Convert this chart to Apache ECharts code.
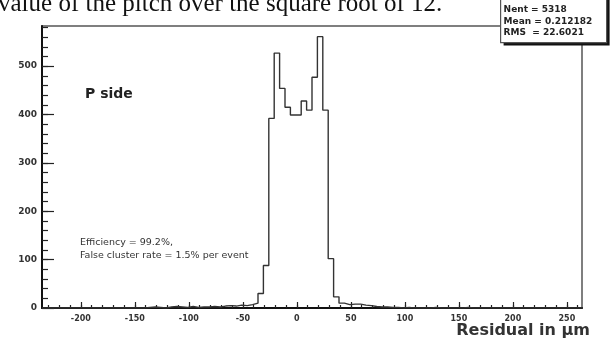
<!DOCTYPE html>
<html>
<head>
<meta charset="utf-8">
<script src="https://cdn.jsdelivr.net/npm/echarts@6/dist/echarts.min.js"></script>
<style>
  html, body { margin: 0; padding: 0; background: #fff; }
  #residual-p-side { width: 610px; height: 339px; }
</style>
</head>
<body>
<div id="residual-p-side"></div>
<script>
// histogram binning (residual in um)
const binStart = -236;
const binWidth = 5;
const counts = [
  0, 0, 0, 0, 0, 0, 0, 0, 0, 0,
  0, 0, 0, 0, 0, 0, 0, 0, 0, 1,
  2, 1, 0, 2, 3, 2, 1, 3, 1, 2,
  2, 3, 2, 4, 5, 4, 6, 5, 7, 10,
  30, 88, 392, 527, 454, 415, 399, 399, 428, 409,
  477, 561, 409, 102, 23, 10, 7, 8, 8, 6,
  5, 3, 2, 2, 1, 1, 0, 1, 0, 0,
  0, 0, 1, 0, 0, 0, 0, 0, 1, 0,
  0, 0, 0, 0, 0, 0, 0, 0, 0, 0,
  0, 0, 0, 0, 0, 0, 0, 0, 0, 0,
];
const xRange = [-236, 264];
const yMax = 583;
const xTickValues = [-200, -150, -100, -50, 0, 50, 100, 150, 200, 250];
const yTickValues = [0, 100, 200, 300, 400, 500];
const statLines = ["Nent = 5318", "Mean = 0.212182", "RMS  = 22.6021"];
const noteLines = ["Efficiency = 99.2%,", "False cluster rate = 1.5% per event"];

// minor ticks every 10 on x, every 20 on y
const xMinor = [];
for (let v = -230; v <= 260; v += 10) xMinor.push(v);
const yMinor = [];
for (let v = 20; v < yMax; v += 20) yMinor.push(v);

// step outline: one point per bin left edge, plus the last right edge
const outline = counts.map(function (c, i) {
  return [binStart + i * binWidth, c];
});
outline.push([binStart + counts.length * binWidth, counts[counts.length - 1]]);

var myChart = echarts.init(document.getElementById("residual-p-side"));

var option = {
  animation: false,
  backgroundColor: "#fff",
  grid: {
    left: 42,
    right: 28,
    top: 26,
    bottom: 31,
    show: true,
    borderColor: "#555",
    borderWidth: 1.5,
  },
  xAxis: [
    {
      type: "value",
      min: xRange[0],
      max: xRange[1],
      position: "bottom",
      axisLine: { show: true, onZero: false, lineStyle: { color: "#111", width: 2 } },
      axisTick: {
        show: true,
        inside: true,
        length: 6,
        customValues: xTickValues,
        lineStyle: { color: "#222", width: 1.2 },
      },
      axisLabel: {
        customValues: xTickValues,
        margin: 7,
        color: "#333",
        fontFamily: "DejaVu Sans",
        fontWeight: "bold",
        fontSize: 8,
      },
      splitLine: { show: false },
    },
    {
      type: "value",
      min: xRange[0],
      max: xRange[1],
      position: "bottom",
      axisLine: { show: false, onZero: false },
      axisTick: {
        show: true,
        inside: true,
        length: 3,
        customValues: xMinor,
        lineStyle: { color: "#222", width: 1.2 },
      },
      axisLabel: { show: false },
      splitLine: { show: false },
    },
  ],
  yAxis: [
    {
      type: "value",
      min: 0,
      max: yMax,
      position: "left",
      axisLine: { show: true, onZero: false, lineStyle: { color: "#111", width: 2 } },
      axisTick: {
        show: true,
        inside: true,
        length: 12,
        customValues: yTickValues,
        lineStyle: { color: "#222", width: 1.2 },
      },
      axisLabel: {
        customValues: yTickValues,
        margin: 5,
        color: "#333",
        fontFamily: "DejaVu Sans",
        fontWeight: "bold",
        fontSize: 9,
      },
      splitLine: { show: false },
    },
    {
      type: "value",
      min: 0,
      max: yMax,
      position: "left",
      axisLine: { show: false, onZero: false },
      axisTick: {
        show: true,
        inside: true,
        length: 6,
        customValues: yMinor,
        lineStyle: { color: "#222", width: 1.2 },
      },
      axisLabel: { show: false },
      splitLine: { show: false },
    },
  ],
  series: [
    {
      name: "residual",
      type: "line",
      step: "end",
      showSymbol: false,
      symbol: "none",
      lineStyle: { color: "#333", width: 1.4 },
      data: outline,
    },
  ],
  graphic: [
    {
      // caption of the page above, cut off by the crop
      type: "text",
      left: -2,
      top: -8,
      style: {
        text: "value of the pitch over the square root of 12.",
        font: "25px 'Liberation Serif'",
        fill: "#111",
      },
    },
    {
      type: "text",
      left: 85,
      top: 87,
      style: { text: "P side", font: "bold 14px 'DejaVu Sans'", fill: "#222" },
    },
    {
      type: "text",
      left: 80,
      top: 236,
      style: {
        text: noteLines.join("\n"),
        font: "9.5px 'DejaVu Sans'",
        lineHeight: 13,
        fill: "#333",
      },
    },
    {
      type: "text",
      right: 20,
      bottom: 0,
      style: { text: "Residual in µm", font: "bold 16px 'DejaVu Sans'", fill: "#333" },
    },
    {
      // stats box with drop shadow
      type: "group",
      left: 500,
      top: -8,
      children: [
        { type: "rect", shape: { x: 3, y: 3, width: 106, height: 50 }, style: { fill: "#111" } },
        {
          type: "rect",
          shape: { x: 0, y: 0, width: 106, height: 50 },
          style: { fill: "#fff", stroke: "#555", lineWidth: 1.2 },
        },
        {
          type: "text",
          x: 3,
          y: 11,
          style: {
            text: statLines.join("\n"),
            font: "bold 9px 'DejaVu Sans'",
            lineHeight: 11.8,
            fill: "#222",
          },
        },
      ],
    },
  ],
};
myChart.setOption(option);
</script>
</body>
</html>
